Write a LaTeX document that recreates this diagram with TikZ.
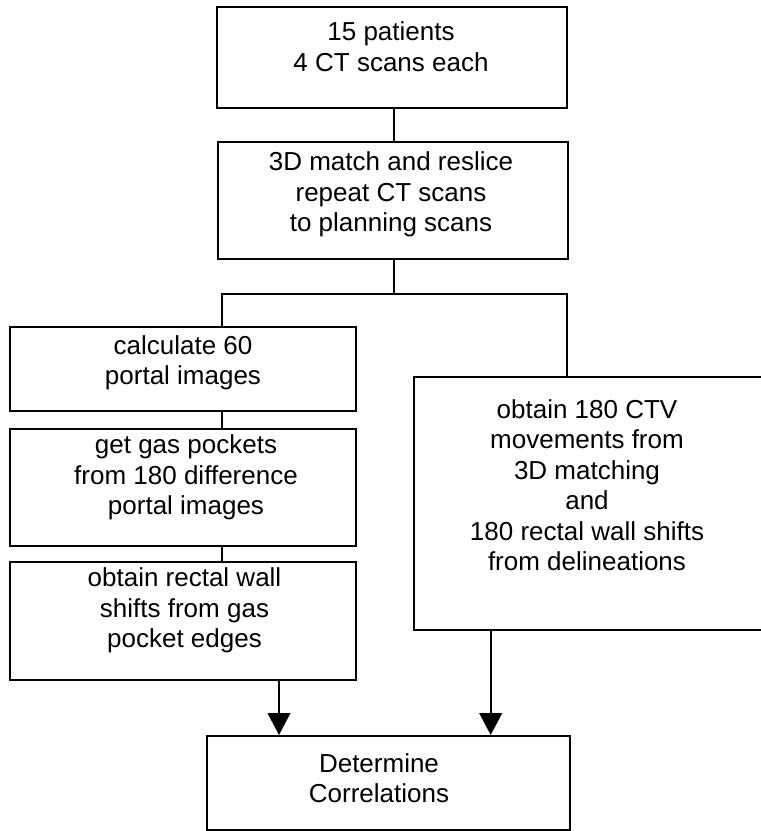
\documentclass[tikz,border=0pt]{standalone}
\usepackage{fontspec}
\setmainfont{Liberation Sans}
\usetikzlibrary{arrows.meta}
\tikzset{
  box/.style={draw=black, line width=2pt, rectangle, inner sep=0pt, fill=none},
  txt/.style={inner sep=0pt, anchor=base, font=\fontsize{26}{30.5}\selectfont},
  conn/.style={draw=black, line width=2pt},
  arr/.style={conn, -{Triangle[width=22.7pt,length=22pt]}}
}
\newcommand{\lns}[1]{\begin{tabular}[t]{@{}c@{}}#1\end{tabular}}
\begin{document}
\begin{tikzpicture}[x=1pt,y=-1pt]
\useasboundingbox (0,0) rectangle (761,831);
\clip (0,0) rectangle (761,831);
\fill[white] (0,0) rectangle (761,831);
% boxes
\node[box, minimum width=350pt, minimum height=101pt] (b1) at (392.3,57.2) {};
\node[box, minimum width=350pt, minimum height=117.6pt] (b2) at (393,200.5) {};
\node[box, minimum width=346.3pt, minimum height=84pt] (b3) at (183.2,369) {};
\node[box, minimum width=346.3pt, minimum height=116.8pt] (b4) at (183.2,487.1) {};
\node[box, minimum width=346.3pt, minimum height=117.7pt] (b5) at (183.2,621.2) {};
\node[box, minimum width=350pt, minimum height=253.5pt] (br) at (588.8,503.3) {};
\node[box, minimum width=363pt, minimum height=94pt] (bb) at (388.8,783) {};
% texts
\node[txt] (t1) at (391,40.7) {\lns{15 patients\\4 CT scans each}};
\node[txt] (t2) at (391,170.7) {\lns{3D match and reslice\\repeat CT scans\\to planning scans}};
\node[txt] (t3) at (183,354) {\lns{calculate 60\\portal images}};
\node[txt] (t4) at (186,453.5) {\lns{get gas pockets\\from 180 difference\\portal images}};
\node[txt] (t5) at (184.5,586.7) {\lns{obtain rectal wall\\shifts from gas\\pocket edges}};
\node[txt] (tr) at (587,418) {\lns{obtain 180 CTV\\movements from\\3D matching\\and\\180 rectal wall shifts\\from delineations}};
\node[txt] (tb) at (379,772.3) {\lns{Determine\\Correlations}};
% junctions
\coordinate (jm) at (394,293.5);
\coordinate (jl) at (221.5,293.5);
\coordinate (jr) at (567.3,293.5);
\coordinate (al) at (279,0);
\coordinate (ar) at (490.7,0);
% connectors
\draw[conn] (b1.south -| jm) -- (b2.north -| jm);
\draw[conn] (b2.south -| jm) -- (jm);
\draw[conn] (b3.north -| jl) -- (jl) -- (jr) -- (br.north -| jr);
\draw[conn] (b3.south -| jl) -- (b4.north -| jl);
\draw[conn] (b4.south -| jl) -- (b5.north -| jl);
\draw[arr] (b5.south -| al) -- (bb.north -| al);
\draw[arr] (br.south -| ar) -- (bb.north -| ar);
\end{tikzpicture}
\end{document}
